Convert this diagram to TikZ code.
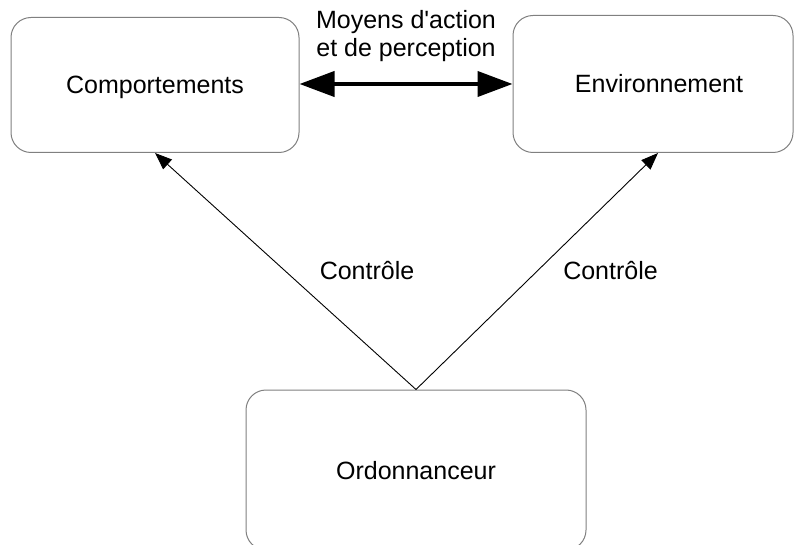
\documentclass[tikz,border=0pt]{standalone}
\usepackage{fontspec}
\setmainfont{Liberation Sans}[Ligatures=TeXOff]
\usetikzlibrary{arrows.meta,positioning,calc}
\begin{document}
\begin{tikzpicture}[x=1pt,y=-1pt,
  box/.style={draw=black!50, line width=1pt, rounded corners=20pt, fill=white, inner sep=0pt,
    text height=18pt, text depth=0pt, font=\fontsize{25}{28}\selectfont},
  txt/.style={font=\fontsize{25}{28}\selectfont, inner sep=0pt, align=center},
  ctrl/.style={-{Triangle[length=17pt,width=13pt]}, line width=0.9pt, black},
  dbl/.style={{Triangle[length=35pt,width=25pt]}-{Triangle[length=35pt,width=25pt]}, line width=4pt, black}]
\useasboundingbox (0,0) rectangle (795,545);
\fill[white] (0,0) rectangle (795,545);
\node[box, minimum width=288pt, minimum height=135pt] (comp) at (155,85) {Comportements};
\node[box, minimum width=280pt, minimum height=137pt] (env) at (653,84) {\hspace{12pt}Environnement};
\node[box, minimum width=340pt, minimum height=160pt] (ord) at (416,470) {Ordonnanceur};
\draw[dbl] (comp.east |- 0,84) -- (env.west |- 0,84);
\node[txt] (moy) at (406,36) {Moyens d'action\\et de perception};
\coordinate (envin) at ([xshift=5pt]env.south);
\draw[ctrl] (ord.north) -- (comp.south);
\draw[ctrl] (ord.north) -- (envin);
\node[txt] (c1) at (367,271) {Contrôle};
\node[txt] (c2) at (610.5,271) {Contrôle};
\end{tikzpicture}
\end{document}
